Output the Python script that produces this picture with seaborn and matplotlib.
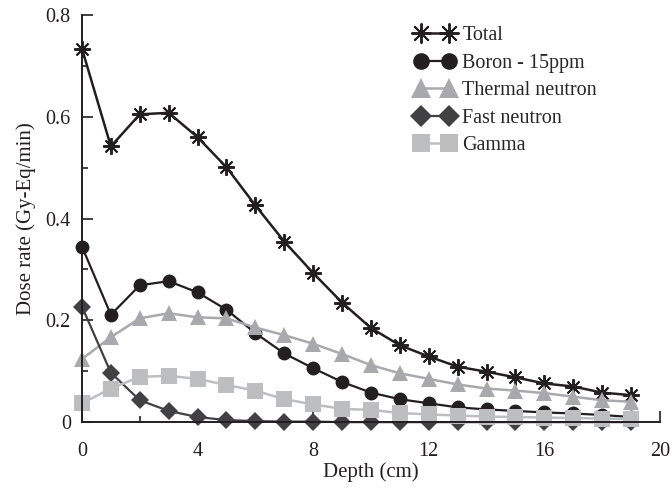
import numpy as np
import pandas as pd
import seaborn as sns
import matplotlib.pyplot as plt
from matplotlib.ticker import MultipleLocator, FuncFormatter

# depth in cm and dose rate components (Gy-Eq/min)
depth = list(range(20))
total = [0.734, 0.542, 0.605, 0.608, 0.560, 0.501, 0.426, 0.355, 0.293, 0.235,
         0.185, 0.151, 0.129, 0.109, 0.099, 0.088, 0.076, 0.070, 0.058, 0.053]
boron = [0.345, 0.211, 0.269, 0.277, 0.255, 0.221, 0.175, 0.135, 0.106, 0.079,
         0.058, 0.045, 0.037, 0.029, 0.025, 0.022, 0.019, 0.017, 0.014, 0.010]
thermal = [0.124, 0.167, 0.204, 0.214, 0.206, 0.204, 0.186, 0.171, 0.154, 0.134,
           0.112, 0.096, 0.085, 0.074, 0.066, 0.062, 0.057, 0.050, 0.043, 0.040]
fast = [0.227, 0.097, 0.043, 0.022, 0.010, 0.004, 0.002, 0.001, 0.001, 0.0,
        0.0, 0.0, 0.0, 0.0, 0.0, 0.0, 0.0, 0.0, 0.0, 0.0]
gamma = [0.037, 0.066, 0.089, 0.091, 0.085, 0.073, 0.062, 0.045, 0.035, 0.026,
         0.024, 0.018, 0.015, 0.013, 0.011, 0.010, 0.009, 0.008, 0.007, 0.006]

labels = ["Total", "Boron - 15ppm", "Thermal neutron", "Fast neutron", "Gamma"]

sns.set_style("ticks")
plt.rcParams["font.family"] = ["Liberation Serif", "DejaVu Serif"]
ink = "#231f20"

fig = plt.figure(figsize=(6.72, 4.88), dpi=100)
ax = fig.add_axes([0.122, 0.135, 0.860, 0.834])

# series, marker, colour, marker size, line width
styles = [
    (total, (8, 2, 0), ink, 12, 1.8),
    (boron, "o", ink, 10, 1.6),
    (thermal, "^", "#a7a9ac", 12, 1.8),
    (fast, "D", "#414042", 9, 1.6),
    (gamma, "s", "#bcbec0", 11, 1.8),
]
for (vals, mk, col, ms, lw), lab in zip(styles, labels):
    sns.lineplot(x=depth, y=vals, ax=ax, color=col, marker=mk, markersize=ms,
                 markeredgecolor=col, markeredgewidth=1.4 if mk == (8, 2, 0) else 0,
                 linewidth=lw, label=lab, clip_on=False)

ax.set_xlim(0, 20)
ax.set_ylim(0, 0.8)
ax.xaxis.set_major_locator(MultipleLocator(4))
ax.xaxis.set_minor_locator(MultipleLocator(2))
ax.yaxis.set_major_locator(MultipleLocator(0.2))
ax.yaxis.set_minor_locator(MultipleLocator(0.1))
ax.yaxis.set_major_formatter(FuncFormatter(lambda v, p: "0" if abs(v) < 1e-9 else f"{v:.1f}"))
ax.tick_params(which="both", direction="in", colors=ink, labelsize=14.5, width=1.2)
ax.tick_params(which="major", length=8)
ax.tick_params(which="minor", length=4.5)
ax.tick_params(axis="x", pad=14)
ax.tick_params(axis="y", pad=8)
for s in ["left", "bottom"]:
    ax.spines[s].set_linewidth(1.4)
    ax.spines[s].set_color(ink)
sns.despine(ax=ax)

ax.set_xlabel("Depth (cm)", fontsize=15, color=ink, labelpad=1)
ax.set_ylabel("Dose rate (Gy-Eq/min)", fontsize=15, color=ink, labelpad=7)

ax.legend(loc="upper left", frameon=False, fontsize=14.5, numpoints=2,
          handlelength=2.0, handletextpad=0.35, labelspacing=0.42,
          markerscale=1.2, borderpad=0, borderaxespad=0,
          bbox_to_anchor=(415 / 672, 1 - 26 / 488), bbox_transform=fig.transFigure)

fig.savefig("out.png", dpi=100)
